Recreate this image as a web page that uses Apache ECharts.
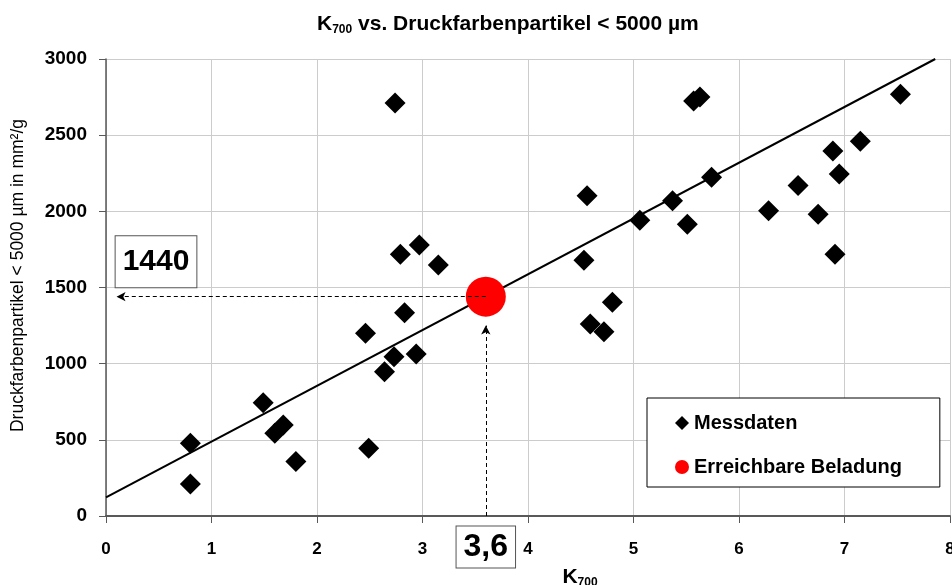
<!DOCTYPE html>
<html>
<head>
<meta charset="utf-8">
<script src="https://cdn.jsdelivr.net/npm/echarts@6/dist/echarts.min.js"></script>
<style>
  html, body { margin: 0; padding: 0; background: #fff; }
  #chart { width: 952px; height: 585px; }
</style>
</head>
<body>
<div id="chart"></div>
<script>
// Messdaten (K700, Druckfarbenpartikel < 5000 µm in mm²/g)
var messX = [0.80, 0.80, 1.49, 1.60, 1.68, 1.80, 2.49, 2.46, 2.64, 2.73, 2.83, 2.94,
             2.79, 2.97, 3.15, 2.74, 4.53, 4.56, 4.59, 4.72, 4.80, 5.06, 5.37, 5.51,
             5.57, 5.63, 5.74, 6.28, 6.56, 6.75, 6.89, 6.95, 6.91, 7.15, 7.53];
var messY = [477, 210, 744, 543, 597, 357, 444, 1199, 947, 1046, 1335, 1063,
             1718, 1779, 1648, 2711, 1679, 2103, 1260, 1210, 1403, 1941, 2070, 1915,
             2725, 2750, 2224, 2004, 2169, 1981, 2396, 2245, 1718, 2460, 2768];

// Regressionsgerade (Endpunkte)
var trendX = [0, 7.86];
var trendY = [123, 3000];

// Erreichbare Beladung
var targetX = 3.6;
var targetY = 1440;
var arrowTipX = 0.1;     // Ende des waagrechten Pfeils
var arrowTipY = 1250;    // Ende des senkrechten Pfeils

var xTicks = [0, 1, 2, 3, 4, 5, 6, 7, 8];
var yTicks = [0, 500, 1000, 1500, 2000, 2500, 3000];

var font = 'Liberation Sans, Arial, sans-serif';

function zip(a, b) {
    var out = [];
    for (var i = 0; i < a.length; i++) out.push([a[i], b[i]]);
    return out;
}

var subRich = {
    k: { fontFamily: font, fontSize: 21, fontWeight: 'bold', color: '#000', lineHeight: 24 },
    s: { fontFamily: font, fontSize: 12, fontWeight: 'bold', color: '#000', lineHeight: 16, verticalAlign: 'bottom' }
};

var chart = echarts.init(document.getElementById('chart'));

var option = {
    backgroundColor: '#fff',
    animation: false,
    title: {
        text: '{k|K}{s|700}{k| vs. Druckfarbenpartikel < 5000 µm}',
        left: 317,
        top: 12,
        padding: 0,
        textStyle: { rich: subRich }
    },
    grid: { left: 106, right: 2, top: 59, bottom: 69, outerBoundsMode: 'none', containLabel: false },
    legend: {
        left: 647,
        top: 398,
        orient: 'vertical',
        backgroundColor: '#fff',
        borderColor: '#000',
        borderWidth: 1,
        borderRadius: 0,
        padding: [15, 38, 10, 28],
        itemGap: 24,
        itemWidth: 14,
        itemHeight: 14,
        textStyle: { fontFamily: font, fontSize: 20, fontWeight: 'bold', color: '#000' },
        data: [
            { name: 'Messdaten', icon: 'diamond', itemStyle: { color: '#000', opacity: 1 } },
            { name: 'Erreichbare Beladung', icon: 'circle', itemStyle: { color: '#ff0000', opacity: 1 } }
        ]
    },
    xAxis: {
        type: 'value',
        min: xTicks[0],
        max: xTicks[xTicks.length - 1],
        interval: 1,
        name: '{k|K}{s|700}',
        nameLocation: 'middle',
        nameGap: 49,
        nameTextStyle: {
            padding: [0, 0, 0, 104],
            rich: subRich
        },
        axisLine: { onZero: false, lineStyle: { color: '#595959', width: 2 } },
        axisTick: { show: true, length: 7, lineStyle: { color: '#595959', width: 1 } },
        axisLabel: { fontFamily: font, fontSize: 17, fontWeight: 'bold', color: '#000', margin: 25 },
        splitLine: { show: true, lineStyle: { color: '#cccccc', width: 1 } }
    },
    yAxis: {
        type: 'value',
        min: yTicks[0],
        max: yTicks[yTicks.length - 1],
        interval: 500,
        name: 'Druckfarbenpartikel < 5000 µm in mm²/g',
        nameLocation: 'middle',
        nameGap: 79,
        nameTextStyle: { fontFamily: font, fontSize: 17.5, color: '#000', padding: [0, 0, 0, 24] },
        axisLine: { show: true, onZero: false, lineStyle: { color: '#595959', width: 1.5 } },
        axisTick: { show: true, length: 7, lineStyle: { color: '#595959', width: 1 } },
        axisLabel: {
            fontFamily: font, fontSize: 19, fontWeight: 'bold', color: '#000', margin: 19,
            formatter: function (v) { return String(v); }
        },
        splitLine: { show: true, lineStyle: { color: '#cccccc', width: 1 } }
    },
    series: [
        {
            name: 'Messdaten',
            type: 'scatter',
            z: 3,
            symbol: 'diamond',
            symbolSize: 21,
            itemStyle: { color: '#000', opacity: 1 },
            data: zip(messX, messY)
        },
        {
            name: 'Erreichbare Beladung',
            type: 'scatter',
            z: 4,
            symbol: 'circle',
            symbolSize: 40,
            clip: false,
            itemStyle: { color: '#ff0000', opacity: 1 },
            data: [[targetX, targetY]],
            markPoint: {
                silent: true,
                symbol: 'rect',
                symbolSize: 1,
                itemStyle: { color: 'rgba(0,0,0,0)' },
                data: [
                    {
                        coord: [targetX, yTicks[0]],
                        label: {
                            show: true, position: 'inside', offset: [0, 31],
                            formatter: String(targetX).replace('.', ','),
                            fontFamily: font, fontSize: 32, fontWeight: 'bold', color: '#000',
                            backgroundColor: '#fff', borderColor: '#555', borderWidth: 1,
                            padding: [5, 7, 4, 7]
                        }
                    },
                    {
                        coord: [xTicks[0], targetY],
                        label: {
                            show: true, position: 'inside', offset: [50, -35],
                            formatter: String(targetY),
                            fontFamily: font, fontSize: 30, fontWeight: 'bold', color: '#000',
                            backgroundColor: '#fff', borderColor: '#555', borderWidth: 1,
                            padding: [11, 7, 10, 7]
                        }
                    }
                ]
            }
        },
        {
            name: 'Trend',
            type: 'line',
            z: 2,
            symbol: 'none',
            silent: true,
            lineStyle: { color: '#000', width: 2 },
            data: zip(trendX, trendY),
            markLine: {
                silent: true,
                symbol: ['none', 'arrow'],
                symbolSize: [7, 9],
                label: { show: false },
                lineStyle: { color: '#000', width: 1, type: [4, 3] },
                data: [
                    [{ coord: [targetX, targetY] }, { coord: [arrowTipX, targetY] }],
                    [{ coord: [targetX, yTicks[0]] }, { coord: [targetX, arrowTipY] }]
                ]
            }
        }
    ]
};

chart.setOption(option);
</script>
</body>
</html>
